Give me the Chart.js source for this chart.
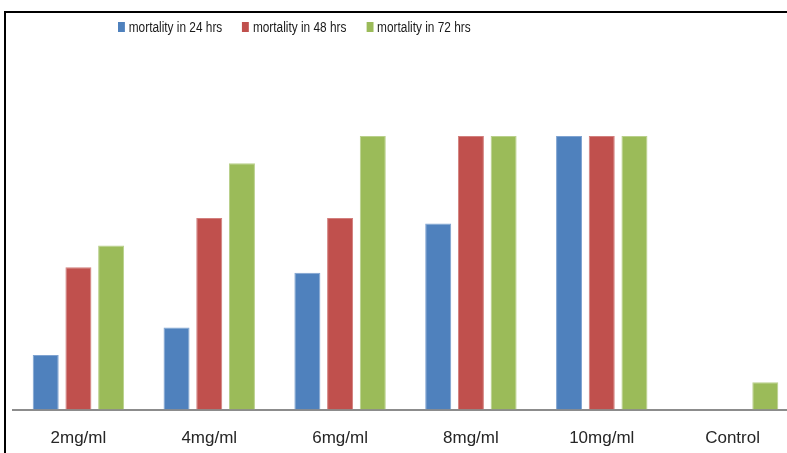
<!DOCTYPE html>
<html>
<head>
<meta charset="utf-8">
<script src="https://cdn.jsdelivr.net/npm/chart.js@4"></script>
<style>
  html, body { margin: 0; padding: 0; background: #fff; overflow: hidden; }
  #wrap { position: relative; width: 787px; height: 453px; overflow: hidden; }
  #frame {
    position: absolute; left: 4px; top: 11px; width: 800px; height: 460px;
    border-left: 2px solid #000; border-top: 2px solid #000; box-sizing: border-box;
  }
  #chart-box { position: absolute; left: 0; top: 0; width: 798px; height: 469px; }
  #legend {
    position: absolute; left: 118px; top: 18px; display: flex; align-items: center;
    font-family: "Liberation Sans", Arial, sans-serif;
    font-size: 15.5px; color: #1a1a1a; white-space: nowrap;
    transform: scaleX(0.765); transform-origin: 0 0;
  }
  .lg-item { display: flex; align-items: center; margin-right: 26px; }
  .lg-box { width: 9px; height: 10px; margin-right: 5px; }
</style>
</head>
<body>
<div id="wrap">
  <div id="frame"></div>
  <div id="chart-box"><canvas id="bars" width="798" height="469"></canvas></div>
  <div id="legend"></div>
</div>
<script>
// ── Data ────────────────────────────────────────────────────────────────────
const doses      = ['2mg/ml', '4mg/ml', '6mg/ml', '8mg/ml', '10mg/ml', 'Control'];
const mort24     = [20, 30, 50, 68, 100, 0];
const mort48     = [52, 70, 70, 100, 100, 0];
const mort72     = [60, 90, 100, 100, 100, 10];
const seriesName = ['mortality in 24 hrs', 'mortality in 48 hrs', 'mortality in 72 hrs'];

const _COLORS = ['#4F81BD', '#C0504D', '#9BBB59'];
const _EDGES  = ['#7fa3d1', '#d27f7d', '#b9d08b'];

const datasets = [mort24, mort48, mort72].map((vals, i) => ({
  label:           seriesName[i],
  data:            vals,
  backgroundColor: _COLORS[i],
  borderColor:     _EDGES[i],
  borderWidth:     1,
  borderSkipped:   'bottom',
  categoryPercentage: 0.75,
  barPercentage:      0.795,
}));

// HTML legend (offset left of centre, as in the original)
const legendEl = document.getElementById('legend');
datasets.forEach(ds => {
  const item = document.createElement('div');
  item.className = 'lg-item';
  item.innerHTML = `<span class="lg-box" style="background:${ds.backgroundColor}"></span><span>${ds.label}</span>`;
  legendEl.appendChild(item);
});

new Chart(document.getElementById('bars'), {
  type: 'bar',
  data: { labels: doses, datasets },
  options: {
    responsive: false,
    animation: false,
    layout: { padding: { left: 13, right: 0, top: 136, bottom: 1 } },
    plugins: {
      legend:  { display: false },
      tooltip: { enabled: false },
    },
    scales: {
      x: {
        grid:   { display: false, drawTicks: false },
        border: { display: true, color: '#8c8c8c', width: 2 },
        ticks:  {
          padding: 19,
          color: '#262626',
          maxRotation: 0,
          font: { family: '"Liberation Sans", Arial, sans-serif', size: 17 },
        },
      },
      y: {
        display: false,
        min: 0,
        max: 100,
      },
    },
  },
});
</script>
</body>
</html>
